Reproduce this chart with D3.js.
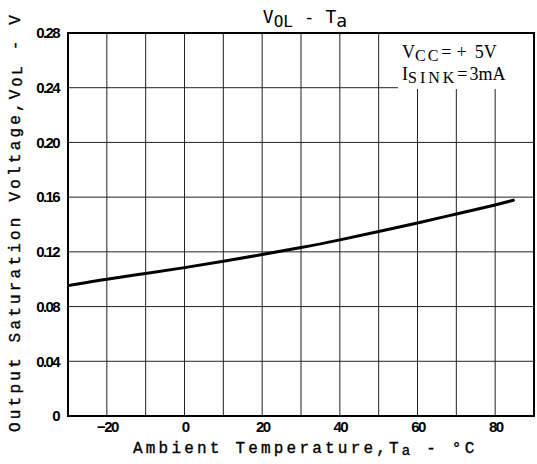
<!DOCTYPE html>
<html lang="en">
<head>
<meta charset="UTF-8" />
<script src="https://d3js.org/d3.v7.min.js"></script>
<style>
  body { margin: 0; background: #fff; }
  svg { display: block; }
</style>
</head>
<body>
<svg width="537" height="464"></svg>
<script>
  // data
  const temps = [-30, -20, -10, 0, 10, 20, 30, 40, 50, 60, 70, 80, 85]
  const vol = [0.0953, 0.1002, 0.1042, 0.1084, 0.1131, 0.1180, 0.1230, 0.1287, 0.1348, 0.1411, 0.1477, 0.1542, 0.1580]
  const xTicks = [-20, 0, 20, 40, 60, 80]
  const yTicks = [0, 0.04, 0.08, 0.12, 0.16, 0.20, 0.24, 0.28]
  const xGrid = [-20, -10, 0, 10, 20, 30, 40, 50, 60, 70, 80]

  const margin = { left: 68, right: 3, top: 33, bottom: 48 }
  const width = 537, height = 464

  const x = d3.scaleLinear().domain([-30, 90]).range([margin.left, width - margin.right])
  const y = d3.scaleLinear().domain([0, 0.28]).range([height - margin.bottom, margin.top])

  const svg = d3.select("svg")

  // grid
  svg.append("g").selectAll("line").data(xGrid).enter().append("line")
    .attr("x1", d => x(d)).attr("x2", d => x(d))
    .attr("y1", y(0)).attr("y2", y(0.28))
    .attr("stroke", "#222").attr("stroke-width", 1)
  svg.append("g").selectAll("line").data(yTicks.slice(1, -1)).enter().append("line")
    .attr("x1", x(-30)).attr("x2", x(90))
    .attr("y1", d => y(d)).attr("y2", d => y(d))
    .attr("stroke", "#222").attr("stroke-width", 1)

  // white box behind the conditions note
  svg.append("rect").attr("x", 398).attr("y", y(0.28) + 1).attr("width", x(90) - 399).attr("height", 55).attr("fill", "#fff")

  // frame
  svg.append("rect").attr("x", x(-30)).attr("y", y(0.28))
    .attr("width", x(90) - x(-30)).attr("height", y(0) - y(0.28))
    .attr("fill", "none").attr("stroke", "#000").attr("stroke-width", 2)

  // curve
  const line = d3.line().x((d, i) => x(temps[i])).y(d => y(d)).curve(d3.curveBasis)
  svg.append("path").datum(vol).attr("d", line)
    .attr("fill", "none").attr("stroke", "#000").attr("stroke-width", 3)

  // axes (labels only)
  const xAxis = g => g.attr("transform", `translate(0,${y(0)})`)
    .call(d3.axisBottom(x).tickValues(xTicks).tickSize(0).tickPadding(5).tickFormat(d3.format("d")))
    .call(g => g.select(".domain").remove())
  const yAxis = g => g.attr("transform", `translate(${x(-30)},0)`)
    .call(d3.axisLeft(y).tickValues(yTicks).tickSize(0).tickPadding(9).tickFormat(d => d === 0 ? "0" : d3.format(".2f")(d)))
    .call(g => g.select(".domain").remove())
  svg.append("g").call(xAxis)
  svg.append("g").call(yAxis)
  svg.selectAll(".tick text")
    .attr("font-family", "Liberation Sans, Arial, sans-serif")
    .attr("font-size", 15).attr("font-weight", "bold")
    .attr("letter-spacing", -1.6).attr("fill", "#000")

  // title
  const title = svg.append("text").attr("x", 305).attr("y", 23).attr("text-anchor", "middle")
    .attr("font-family", "DejaVu Sans Mono, monospace").attr("font-size", 18)
  title.append("tspan").text("V")
  title.append("tspan").attr("dy", 4).attr("font-size", 16).text("OL")
  title.append("tspan").attr("dy", -4).text(" - T")
  title.append("tspan").attr("dy", 4).text("a")

  // axis titles
  const mono = "Liberation Mono, Courier New, monospace"
  const xt = svg.append("text").attr("x", 133).attr("y", 453)
    .attr("font-family", mono).attr("font-size", 16)
    .attr("letter-spacing", 3.2).attr("stroke", "#000").attr("stroke-width", 0.35)
  xt.append("tspan").text("Ambient Temperature,T")
  xt.append("tspan").attr("dy", 2).attr("font-size", 14).text("a")
  xt.append("tspan").attr("dy", -2).text(" - °C")

  const yt = svg.append("text").attr("transform", "translate(20,432) rotate(-90)")
    .attr("font-family", mono).attr("font-size", 16)
    .attr("letter-spacing", 3.2).attr("stroke", "#000").attr("stroke-width", 0.35)
  yt.append("tspan").text("Output Saturation Voltage,V")
  yt.append("tspan").attr("dy", 2).attr("font-size", 14).text("OL")
  yt.append("tspan").attr("dy", -2).text(" - V")

  // conditions
  const serif = "Liberation Serif, serif"
  const c1 = svg.append("text").attr("x", 402).attr("y", 58)
    .attr("font-family", serif).attr("font-size", 18)
  c1.append("tspan").text("V")
  c1.append("tspan").attr("dy", 3).attr("font-size", 16).attr("letter-spacing", 2).text("CC")
  c1.append("tspan").attr("dy", -3).attr("dx", 1).attr("transform", "").text("=")
  c1.append("tspan").attr("dx", 5).text("+")
  c1.append("tspan").attr("dx", 8).text("5V")
  const c2 = svg.append("text").attr("x", 402).attr("y", 80)
    .attr("font-family", serif).attr("font-size", 18)
  c2.append("tspan").text("I")
  c2.append("tspan").attr("dy", 3).attr("font-size", 16).attr("letter-spacing", 3).text("SINK")
  c2.append("tspan").attr("dy", -3).attr("dx", 0).text("=")
  c2.append("tspan").attr("dx", 2).text("3mA")
</script>
</body>
</html>
